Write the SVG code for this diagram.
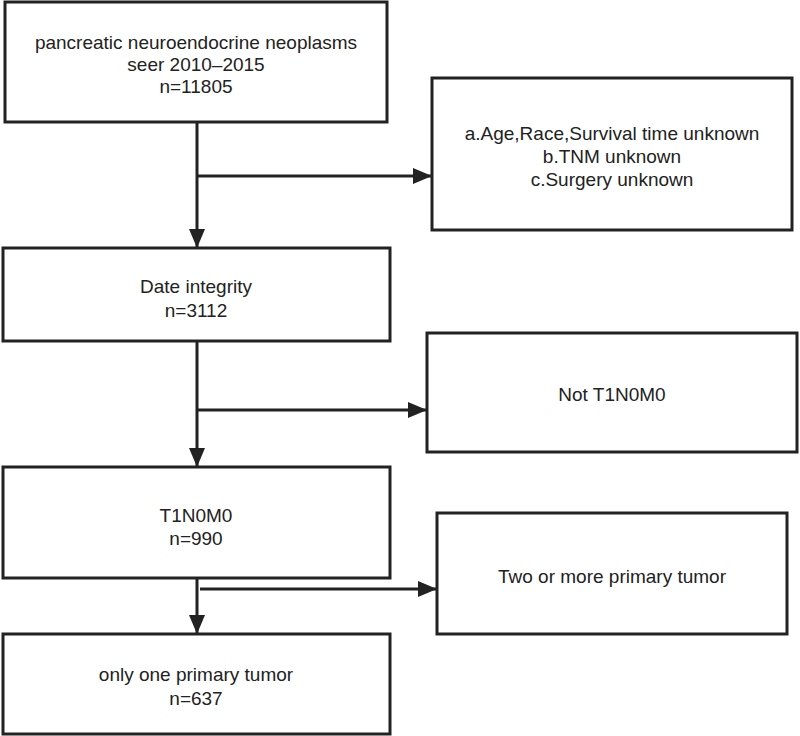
<svg xmlns="http://www.w3.org/2000/svg" width="800" height="736" viewBox="0 0 800 736">
<style>
.box{fill:#fff;stroke:#222;stroke-width:3}
.t{font-family:"Liberation Sans",Arial,sans-serif;font-size:19px;fill:#222;text-anchor:middle}
.c{stroke:#222;stroke-width:3;fill:none}
</style>
<defs>
<marker id="arr" markerUnits="userSpaceOnUse" markerWidth="20" markerHeight="18" refX="19" refY="8" orient="auto">
<path d="M0,0 L19,8 L0,16 Z" fill="#222"/>
</marker>
</defs>
<rect width="800" height="736" fill="#fff"/>
<g id="connectors">
<line class="c" x1="197" y1="122" x2="197" y2="248" marker-end="url(#arr)"/>
<line class="c" x1="197" y1="176" x2="432" y2="176" marker-end="url(#arr)"/>
<line class="c" x1="197" y1="341" x2="197" y2="467" marker-end="url(#arr)"/>
<line class="c" x1="197" y1="410" x2="427" y2="410" marker-end="url(#arr)"/>
<line class="c" x1="197" y1="578" x2="197" y2="634" marker-end="url(#arr)"/>
<line class="c" x1="200" y1="589" x2="437" y2="589" marker-end="url(#arr)"/>
</g>
<g id="n1">
<rect class="box" x="5" y="2" width="382" height="120"/>
<text class="t" x="196" y="49">pancreatic neuroendocrine neoplasms</text>
<text class="t" x="196" y="71">seer 2010–2015</text>
<text class="t" x="196" y="93">n=11805</text>
</g>
<g id="n2">
<rect class="box" x="432" y="78" width="360" height="152"/>
<text class="t" x="612" y="140">a.Age,Race,Survival time unknown</text>
<text class="t" x="612" y="163">b.TNM unknown</text>
<text class="t" x="612" y="186">c.Surgery unknown</text>
</g>
<g id="n3">
<rect class="box" x="3" y="248" width="387" height="93"/>
<text class="t" x="196" y="293">Date integrity</text>
<text class="t" x="196" y="317">n=3112</text>
</g>
<g id="n4">
<rect class="box" x="427" y="333" width="370" height="119"/>
<text class="t" x="612" y="401">Not T1N0M0</text>
</g>
<g id="n5">
<rect class="box" x="3" y="467" width="387" height="111"/>
<text class="t" x="196" y="522">T1N0M0</text>
<text class="t" x="196" y="545">n=990</text>
</g>
<g id="n6">
<rect class="box" x="437" y="513" width="350" height="121"/>
<text class="t" x="612" y="583">Two or more primary tumor</text>
</g>
<g id="n7">
<rect class="box" x="3" y="634" width="387" height="100"/>
<text class="t" x="196" y="681">only one primary tumor</text>
<text class="t" x="196" y="705">n=637</text>
</g>
</svg>
